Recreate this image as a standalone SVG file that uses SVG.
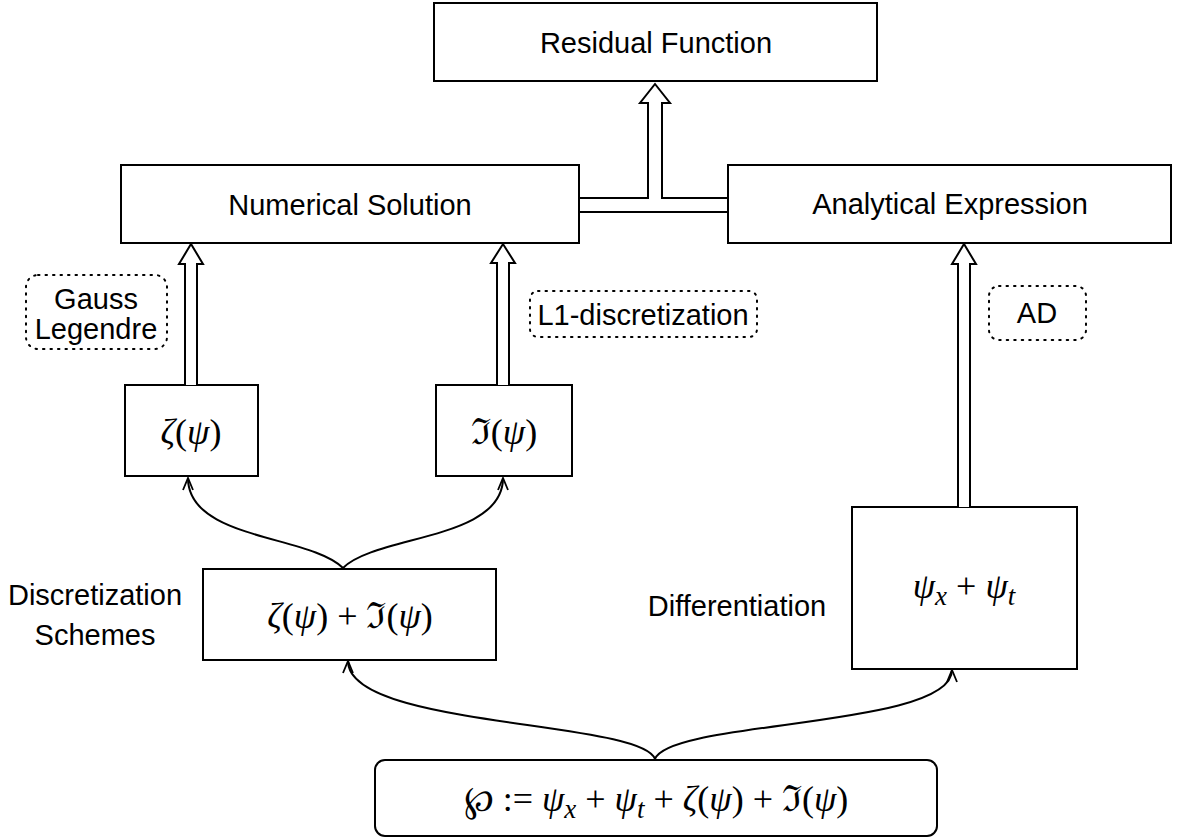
<svg xmlns="http://www.w3.org/2000/svg" width="1188" height="839" viewBox="0 0 1188 839">
<defs>
<style>
.box{fill:#fff;stroke:#000;stroke-width:2}
.note{fill:none;stroke:#000;stroke-width:2;stroke-dasharray:1.5 6;stroke-linecap:round}
.t{font-family:"Liberation Sans",Arial,sans-serif;font-size:29px;fill:#000;text-anchor:middle}
.m{font-family:"Liberation Serif","DejaVu Serif",serif;font-size:36px;fill:#000;text-anchor:middle}
.i{font-style:italic}
.s{font-style:italic;font-size:27px}
.dbl{fill:#fff;stroke:#000;stroke-width:2;stroke-linejoin:miter}
.cur{fill:none;stroke:#000;stroke-width:2}
</style>
<marker id="open" viewBox="0 0 14 12" refX="13" refY="6" markerWidth="14" markerHeight="12" markerUnits="userSpaceOnUse" orient="auto">
<path d="M1,1 L13,6 L1,11" fill="none" stroke="#000" stroke-width="1.8"/>
</marker>
</defs>
<rect width="1188" height="839" fill="#fff"/>

<g id="residual">
<rect class="box" x="434" y="3" width="443" height="78"/>
<text class="t" x="656" y="53">Residual Function</text>
</g>
<g id="numerical">
<rect class="box" x="121" y="165" width="458" height="78"/>
<text class="t" x="350" y="215">Numerical Solution</text>
</g>
<g id="analytical">
<rect class="box" x="728" y="165" width="443" height="78"/>
<text class="t" x="950" y="214">Analytical Expression</text>
</g>
<g id="zeta">
<rect class="box" x="125" y="385" width="133" height="91"/>
<text class="m" x="191" y="444"><tspan class="i">ζ</tspan>(<tspan class="i">ψ</tspan>)</text>
</g>
<g id="im">
<rect class="box" x="436" y="385" width="136" height="91"/>
<text class="m" x="504" y="444">ℑ(<tspan class="i">ψ</tspan>)</text>
</g>
<g id="disc">
<rect class="box" x="203" y="569" width="293" height="91"/>
<text class="m" x="350" y="628"><tspan class="i">ζ</tspan>(<tspan class="i">ψ</tspan>) + ℑ(<tspan class="i">ψ</tspan>)</text>
</g>
<g id="diff">
<rect class="box" x="852" y="507" width="225" height="162"/>
<text class="m" x="964" y="598" font-size="40"><tspan class="i">ψ</tspan><tspan class="s" font-size="29" dy="7">x</tspan><tspan dy="-7"> + </tspan><tspan class="i">ψ</tspan><tspan class="s" font-size="29" dy="7">t</tspan></text>
</g>
<g id="formula">
<rect class="box" x="375" y="760" width="562" height="76" rx="10" ry="10"/>
<text class="m" x="656" y="811" font-size="37">℘ := <tspan class="i">ψ</tspan><tspan class="s" dy="7">x</tspan><tspan dy="-7"> + </tspan><tspan class="i">ψ</tspan><tspan class="s" dy="7">t</tspan><tspan dy="-7"> + </tspan><tspan class="i">ζ</tspan>(<tspan class="i">ψ</tspan>) + ℑ(<tspan class="i">ψ</tspan>)</text>
</g>
<g id="gauss-note">
<rect class="note" x="26" y="275" width="141" height="74" rx="12" ry="12"/>
<text class="t" x="96" y="309">Gauss</text>
<text class="t" x="96" y="339">Legendre</text>
</g>
<g id="l1-note">
<rect class="note" x="530" y="291" width="227" height="46" rx="8" ry="8"/>
<text class="t" x="643" y="325">L1-discretization</text>
</g>
<g id="ad-note">
<rect class="note" x="989" y="286" width="97" height="54" rx="10" ry="10"/>
<text class="t" x="1037" y="323">AD</text>
</g>
<g id="label-disc">
<text class="t" x="95" y="605">Discretization</text>
<text class="t" x="95" y="645">Schemes</text>
</g>
<g id="label-diff">
<text class="t" x="737" y="616">Differentiation</text>
</g>

<g id="connectors">
<path class="dbl" d="M579,198 L648,198 L648,103 L640,103 L655,84 L670,103 L662,103 L662,198 L728,198 L728,212 L579,212 Z"/>
<path class="dbl" d="M185,385 L185,264 L179,264 L191,244 L203,264 L197,264 L197,385"/>
<path class="dbl" d="M497,385 L497,263 L491,263 L503,244 L515,263 L509,263 L509,385"/>
<path class="dbl" d="M958,507 L958,264 L952,264 L964,244 L976,264 L970,264 L970,507"/>
<path class="cur" marker-end="url(#open)" d="M343,568 C310,535 188,540 188,478"/>
<path class="cur" marker-end="url(#open)" d="M343,568 C376,535 503,540 503,478"/>
<path class="cur" marker-end="url(#open)" d="M655,759 C640,720 348,728 348,661"/>
<path class="cur" marker-end="url(#open)" d="M655,759 C670,720 952,728 952,670"/>
</g>
</svg>
